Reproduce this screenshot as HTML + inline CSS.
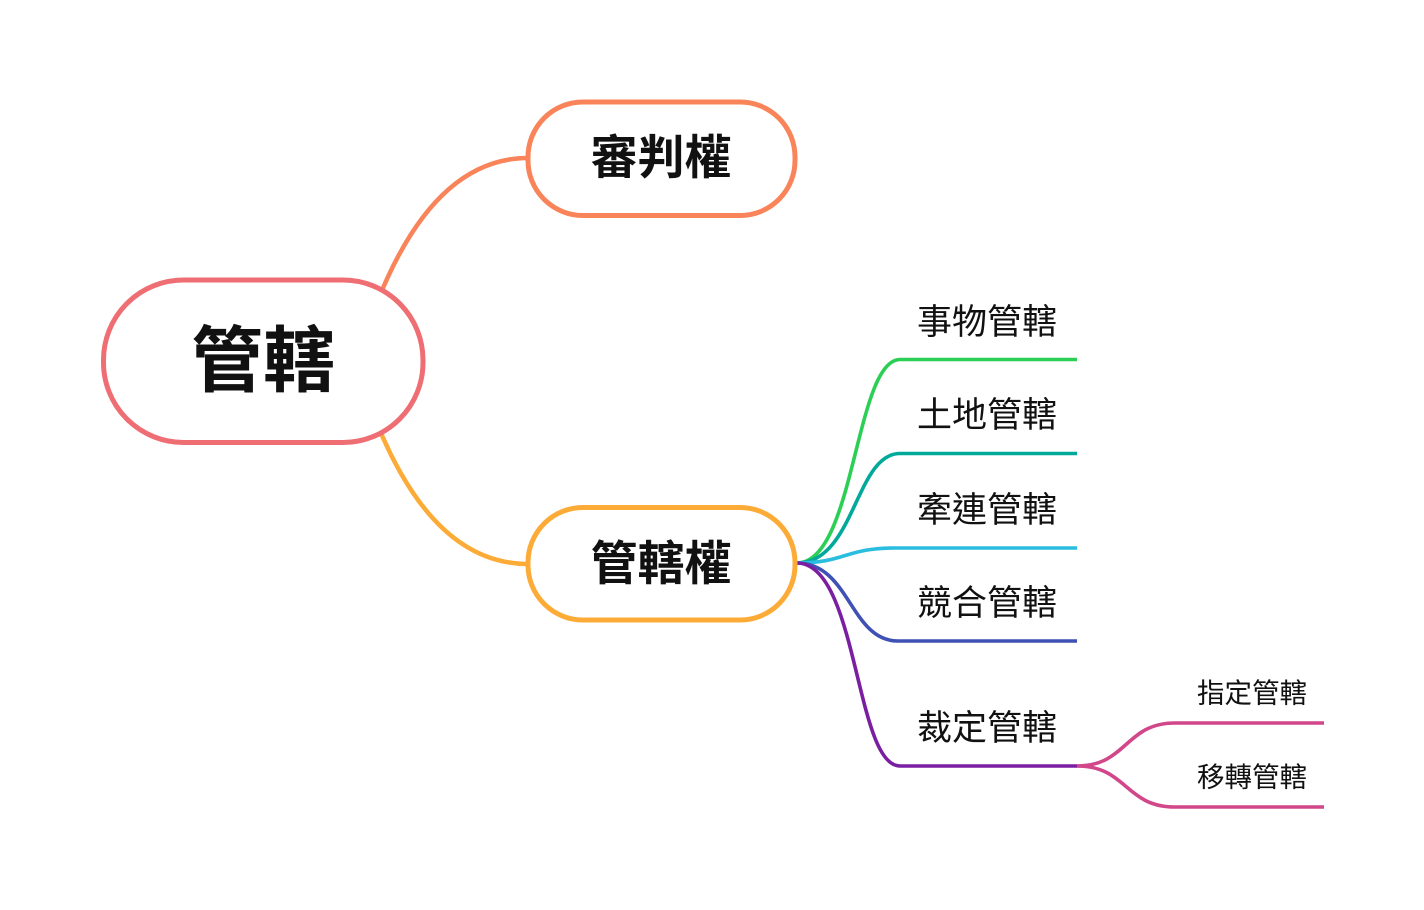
<!DOCTYPE html>
<html>
<head>
<meta charset="utf-8">
<style>
  html, body { margin: 0; padding: 0; background: #ffffff; }
  body { width: 1424px; height: 910px; overflow: hidden; }
  svg { display: block; }
  .t { font-family: "Liberation Sans", "Noto Sans CJK TC", "Noto Sans CJK SC", sans-serif; fill: #111111; }
  .b { font-weight: 700; }
</style>
</head>
<body>
<svg width="1424" height="910" viewBox="0 0 1424 910" xmlns="http://www.w3.org/2000/svg">
  <rect x="0" y="0" width="1424" height="910" fill="#ffffff"/>

  <!-- main connectors -->
  <path d="M 378 300 Q 435 158 528 158" fill="none" stroke="#f9845a" stroke-width="4.5"/>
  <path d="M 378 426 Q 435 564 528 564" fill="none" stroke="#fdab37" stroke-width="4.5"/>

  <!-- leaf connectors -->
  <path d="M 797 563 C 855 563, 855 359.5, 900 359.5 L 1077 359.5" fill="none" stroke="#2ccf55" stroke-width="3.6"/>
  <path d="M 797 563 C 855 563, 855 453.5, 900 453.5 L 1077 453.5" fill="none" stroke="#00a99a" stroke-width="3.6"/>
  <path d="M 797 563 C 845 563, 845 548, 895 548 L 1077 548" fill="none" stroke="#2bbde0" stroke-width="3.6"/>
  <path d="M 797 563 C 850 563, 850 641, 898 641 L 1077 641" fill="none" stroke="#3f51b5" stroke-width="3.6"/>
  <path d="M 797 563 C 858 563, 855 766, 900 766 L 1077 766" fill="none" stroke="#7b1fa2" stroke-width="3.6"/>

  <!-- sub-leaf connectors -->
  <path d="M 1077 766 C 1127 766, 1125 723, 1175 723 L 1324 723" fill="none" stroke="#d2478a" stroke-width="3.6"/>
  <path d="M 1077 766 C 1127 766, 1125 807, 1175 807 L 1324 807" fill="none" stroke="#d2478a" stroke-width="3.6"/>

  <!-- root -->
  <rect x="103.5" y="280" width="319.5" height="162.5" rx="80" ry="80" fill="#ffffff" stroke="#ee6e73" stroke-width="5"/>
  <text class="t b" x="263" y="386" font-size="72" text-anchor="middle">管轄</text>

  <!-- 審判權 -->
  <rect x="528" y="102" width="267" height="113.5" rx="55" ry="55" fill="#ffffff" stroke="#f9845a" stroke-width="5"/>
  <text class="t b" x="661" y="174" font-size="47" text-anchor="middle">審判權</text>

  <!-- 管轄權 -->
  <rect x="528" y="507.5" width="267" height="112.5" rx="55" ry="55" fill="#ffffff" stroke="#fdab37" stroke-width="5"/>
  <text class="t b" x="661" y="580" font-size="47" text-anchor="middle">管轄權</text>

  <!-- leaves -->
  <text class="t" x="987" y="334" font-size="35" text-anchor="middle">事物管轄</text>
  <text class="t" x="987" y="427" font-size="35" text-anchor="middle">土地管轄</text>
  <text class="t" x="987" y="522" font-size="35" text-anchor="middle">牽連管轄</text>
  <text class="t" x="987" y="615" font-size="35" text-anchor="middle">競合管轄</text>
  <text class="t" x="987" y="740" font-size="35" text-anchor="middle">裁定管轄</text>

  <!-- sub-leaves -->
  <text class="t" x="1252" y="702.5" font-size="27.5" text-anchor="middle">指定管轄</text>
  <text class="t" x="1252" y="786.5" font-size="27.5" text-anchor="middle">移轉管轄</text>
</svg>
</body>
</html>
